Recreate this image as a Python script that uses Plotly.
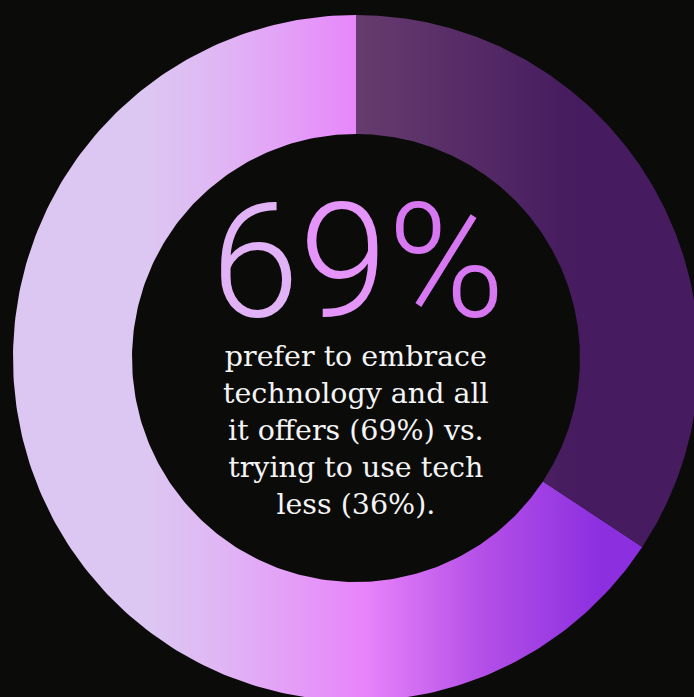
import numpy as np
import plotly.graph_objects as go

# Survey split shown in the ring
labels = ["Embrace technology", "Use tech less"]
values = [69, 36]
headline = "69%"
caption_lines = [
    "prefer to embrace",
    "technology and all",
    "it offers (69%) vs.",
    "trying to use tech",
    "less (36%).",
]

# Ring geometry (axis units == screen pixels)
R_OUT, R_IN = 343, 224
BG = "#0b0b0a"

# Horizontal gradients for each slice: (start x, stop x, colorscale)
gradients = {
    "Embrace technology": (-206, 244, [
        [0.0, "#dcc6f2"], [0.156, "#e0b6f4"], [0.289, "#e3a2f7"],
        [0.478, "#e883fb"], [0.733, "#b550e8"], [1.0, "#8c2fdf"],
    ]),
    "Use tech less": (0, 220, [[0.0, "#663c6e"], [1.0, "#461b5f"]]),
}


def sector(a0, a1, n=240):
    """Annular sector between clockwise-from-top angles a0..a1 (radians)."""
    t = np.linspace(a0, a1, n)
    xo, yo = R_OUT * np.sin(t), R_OUT * np.cos(t)
    xi, yi = R_IN * np.sin(t[::-1]), R_IN * np.cos(t[::-1])
    x = np.concatenate([xo, xi, xo[:1]])
    y = np.concatenate([yo, yi, yo[:1]])
    return x, y


fig = go.Figure()

# "Use tech less" runs clockwise from 12 o'clock, the rest fills the ring
total = sum(values)
less_angle = 2 * np.pi * values[1] / total
spans = {
    "Use tech less": (0.0, less_angle),
    "Embrace technology": (less_angle, 2 * np.pi),
}
for name in labels:
    a0, a1 = spans[name]
    x, y = sector(a0, a1)
    start, stop, cs = gradients[name]
    fig.add_trace(go.Scatter(
        x=x, y=y, mode="lines", fill="toself", name=name,
        line=dict(width=0, color="rgba(0,0,0,0)"),
        fillgradient=dict(type="horizontal", start=start, stop=stop, colorscale=cs),
        hoverinfo="name", showlegend=False,
    ))

# Headline number, tinted per glyph along the same lavender→violet ramp
glyph_colors = ["#e2b2f6", "#e594f9", "#d877f2"]
headline_html = "".join(
    f'<span style="color:{c}">{ch}</span>' for ch, c in zip(headline, glyph_colors)
)
fig.add_annotation(
    x=2, y=97, xref="x", yref="y", text=headline_html, showarrow=False,
    xanchor="center", yanchor="middle", height=150,
    font=dict(family="Roboto", size=159, weight=300, color="#e594f9"),
)

fig.add_annotation(
    x=0, y=-72, xref="x", yref="y", text="<br>".join(caption_lines),
    showarrow=False, xanchor="center", yanchor="middle", align="center",
    font=dict(family="DejaVu Serif", size=28.5, color="#f4f4f4"),
)

fig.update_layout(
    width=694, height=697,
    margin=dict(l=0, r=0, t=0, b=0),
    paper_bgcolor=BG, plot_bgcolor=BG,
    xaxis=dict(range=[-356, 338], visible=False, fixedrange=True),
    yaxis=dict(range=[-339, 358], visible=False, fixedrange=True),
    showlegend=False,
)

fig.write_html("out.html")
